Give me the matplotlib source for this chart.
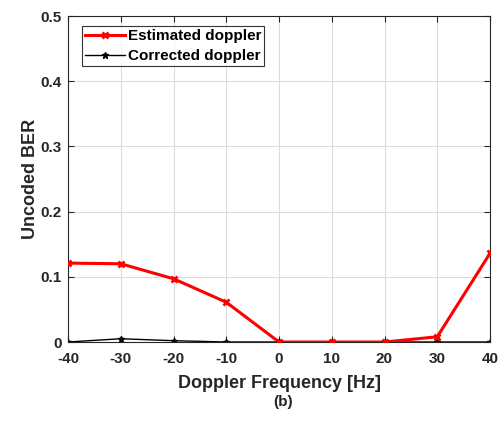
import numpy as np
import matplotlib.pyplot as plt

plt.rcParams['font.family'] = ['Liberation Sans', 'DejaVu Sans']
plt.rcParams['font.weight'] = 'bold'
plt.rcParams['axes.unicode_minus'] = False

# Doppler sweep and uncoded BER
doppler_hz = [-40, -30, -20, -10, 0, 10, 20, 30, 40]
ber_estimated = [0.121, 0.120, 0.097, 0.061, 0.0, 0.0, 0.0, 0.008, 0.136]
ber_corrected = [0.0, 0.005, 0.002, 0.0, 0.0, 0.0, 0.0, 0.0, 0.0]
x_ticks = [-40, -30, -20, -10, 0, 10, 20, 30, 40]
y_ticks = [0, 0.1, 0.2, 0.3, 0.4, 0.5]

txt = '#262626'

fig = plt.figure(figsize=(5.04, 4.26), dpi=100)
ax = fig.add_axes([68/504, 1-342/426, 422/504, 326/426])

ax.plot(doppler_hz, ber_estimated, color='red', lw=2.2, marker='x', ms=5, mew=2,
        label='Estimated doppler', zorder=3)
ax.plot(doppler_hz, ber_corrected, color='black', lw=1, marker='*', ms=5,
        label='Corrected doppler', zorder=2)

ax.set_xlim(-40, 40)
ax.set_ylim(0, 0.5)
ax.set_xticks(x_ticks)
ax.set_yticks(y_ticks)
ax.set_yticklabels(['0', '0.1', '0.2', '0.3', '0.4', '0.5'])
ax.grid(True, color='#dcdcdc', lw=0.8)
ax.set_axisbelow(True)
ax.tick_params(direction='in', labelsize=11, colors=txt, length=4, top=True, right=True,
               labelcolor=txt)
ax.tick_params(axis='x', pad=7)
ax.tick_params(axis='y', pad=4.5)
for s in ax.spines.values():
    s.set_color('#262626')
    s.set_linewidth(0.8)

ax.set_xlabel('Doppler Frequency [Hz]', fontsize=13, color=txt, fontweight='bold',
              labelpad=7)
ax.set_ylabel('Uncoded BER', fontsize=13, color=txt, fontweight='bold', labelpad=1)

leg = ax.legend(loc='upper left', bbox_to_anchor=(14/422, 1-10/326), fontsize=11,
                frameon=True, fancybox=False, edgecolor='black', handlelength=2.6,
                borderaxespad=0, labelspacing=0.4, handletextpad=0.2, borderpad=0.2)
leg.get_frame().set_linewidth(0.8)

fig.text(283/504, 1-402/426, '(b)', ha='center', va='center', fontsize=11,
         color=txt, fontweight='bold')

fig.savefig('out.png', dpi=100)
